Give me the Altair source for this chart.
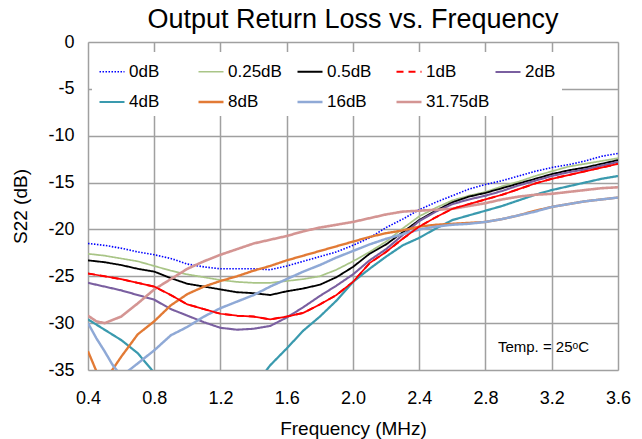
import altair as alt
import pandas as pd

series_names = ["0dB", "0.25dB", "0.5dB", "1dB", "2dB", "4dB", "8dB", "16dB", "31.75dB"]
series_colors = ["#0000FF", "#A9C587", "#000000", "#FF0000", "#7A5FA0",
                 "#3A9AAE", "#E27A35", "#8FA9D6", "#D49593"]

freq = [0.4, 0.5, 0.6, 0.7, 0.8, 0.9, 1.0, 1.1, 1.2, 1.3, 1.4, 1.5, 1.6, 1.7, 1.8,
        1.9, 2.0, 2.1, 2.2, 2.3, 2.4, 2.5, 2.6, 2.7, 2.8, 2.9, 3.0, 3.1, 3.2, 3.3,
        3.4, 3.5, 3.6]

s_0dB = [-21.5, -21.7, -22.0, -22.4, -22.7, -23.1, -23.7, -24.0, -24.2, -24.2,
         -24.2, -24.3, -23.9, -23.4, -22.9, -22.4, -21.7, -20.9, -19.8, -18.9,
         -17.9, -17.1, -16.4, -15.7, -15.2, -14.8, -14.3, -13.8, -13.4, -13.1,
         -12.7, -12.2, -11.9]
s_025dB = [-22.6, -22.8, -23.1, -23.4, -23.9, -24.4, -24.8, -25.1, -25.4, -25.6,
           -25.7, -25.7, -25.5, -25.3, -25.0, -24.3, -23.4, -22.4, -21.3, -19.9,
           -18.6, -17.7, -16.9, -16.4, -16.0, -15.4, -14.9, -14.3, -13.8, -13.3,
           -13.0, -12.7, -12.4]
s_05dB = [-23.3, -23.5, -23.8, -24.2, -24.5, -25.2, -25.8, -26.1, -26.4, -26.7,
          -26.8, -27.0, -26.6, -26.3, -25.9, -25.1, -24.0, -22.6, -21.6, -20.3,
          -19.0, -18.0, -17.1, -16.5, -16.1, -15.6, -15.1, -14.6, -14.1, -13.7,
          -13.4, -13.0, -12.6]
s_1dB = [-24.7, -25.0, -25.3, -25.7, -26.1, -27.0, -28.0, -28.5, -29.0, -29.2,
         -29.3, -29.6, -29.3, -28.9, -28.0, -27.0, -25.6, -23.6, -22.4, -21.0,
         -19.7, -18.7, -17.8, -17.3, -16.8, -16.3, -15.7, -15.1, -14.6, -14.2,
         -13.8, -13.4, -13.0]
s_2dB = [-25.7, -26.1, -26.5, -27.0, -27.5, -28.5, -29.2, -29.9, -30.5, -30.7,
         -30.6, -30.3, -29.4, -28.3, -27.1, -26.0, -24.8, -23.3, -22.1, -20.6,
         -19.1, -18.1, -17.3, -16.8, -16.4, -15.9, -15.3, -14.8, -14.3, -13.9,
         -13.6, -13.2, -12.8]
s_4dB = [-29.6, -30.7, -31.8, -33.2, -35.3, -37.0, -38.5, -39.5, -39.5, -38.5,
         -36.8, -34.5, -32.7, -30.8, -29.3, -27.6, -25.6, -24.2, -22.9, -21.7,
         -20.9, -19.9, -19.0, -18.5, -18.0, -17.5, -16.9, -16.3, -15.8, -15.4,
         -15.0, -14.6, -14.3]

freq_8dB = [0.4, 0.45, 0.5, 0.55, 0.6, 0.7, 0.8, 0.9, 1.0, 1.1, 1.2, 1.3, 1.4, 1.5,
            1.6, 1.7, 1.8, 1.9, 2.0, 2.1, 2.2, 2.3, 2.4, 2.5, 2.6, 2.7, 2.8, 2.9,
            3.0, 3.1, 3.2, 3.3, 3.4, 3.5, 3.6]
s_8dB = [-33.0, -35.1, -36.0, -34.9, -33.6, -31.2, -29.8, -28.1, -26.9, -26.1,
         -25.5, -25.0, -24.4, -23.9, -23.3, -22.8, -22.3, -21.8, -21.3, -20.8,
         -20.4, -20.1, -19.7, -19.5, -19.4, -19.3, -19.2, -18.9, -18.5, -18.0,
         -17.6, -17.3, -17.0, -16.8, -16.6]

freq_16dB = [0.4, 0.45, 0.5, 0.55, 0.6, 0.65, 0.7, 0.8, 0.9, 1.0, 1.1, 1.2, 1.3,
             1.4, 1.5, 1.6, 1.7, 1.8, 1.9, 2.0, 2.1, 2.2, 2.3, 2.4, 2.5, 2.6, 2.7,
             2.8, 2.9, 3.0, 3.1, 3.2, 3.3, 3.4, 3.5, 3.6]
s_16dB = [-30.0, -31.6, -33.0, -34.5, -35.6, -35.0, -34.3, -32.9, -31.3, -30.4,
          -29.3, -28.4, -27.7, -27.0, -26.1, -25.3, -24.5, -23.8, -23.0, -22.3,
          -21.6, -21.0, -20.5, -20.0, -19.7, -19.5, -19.4, -19.2, -18.9, -18.5,
          -18.1, -17.6, -17.3, -17.0, -16.8, -16.6]

freq_3175dB = [0.4, 0.45, 0.5, 0.6, 0.7, 0.8, 0.9, 1.0, 1.1, 1.2, 1.3, 1.4, 1.5,
               1.6, 1.7, 1.8, 1.9, 2.0, 2.1, 2.2, 2.3, 2.4, 2.5, 2.6, 2.7, 2.8,
               2.9, 3.0, 3.1, 3.2, 3.3, 3.4, 3.5, 3.6]
s_3175dB = [-29.2, -29.8, -30.0, -29.3, -27.9, -26.4, -25.3, -24.2, -23.4, -22.7,
            -22.1, -21.5, -21.1, -20.7, -20.2, -19.8, -19.5, -19.2, -18.8, -18.4,
            -18.1, -18.0, -17.9, -17.8, -17.5, -17.2, -16.8, -16.5, -16.3, -16.2,
            -16.0, -15.8, -15.6, -15.5]

x_ticks = [0.4, 0.8, 1.2, 1.6, 2.0, 2.4, 2.8, 3.2, 3.6]
y_ticks = [-35, -30, -25, -20, -15, -10, -5, 0]

note_text = ["Temp. = 25ᵒC"]
note_x = [3.15]
note_y = [-32.5]

series_data = [
    ("0dB", freq, s_0dB), ("0.25dB", freq, s_025dB), ("0.5dB", freq, s_05dB),
    ("1dB", freq, s_1dB), ("2dB", freq, s_2dB), ("4dB", freq, s_4dB),
    ("8dB", freq_8dB, s_8dB), ("16dB", freq_16dB, s_16dB),
    ("31.75dB", freq_3175dB, s_3175dB),
]
rows = []
for name, fs, vs in series_data:
    assert len(fs) == len(vs), name
    for i, (f, v) in enumerate(zip(fs, vs)):
        rows.append({"series": name, "f": f, "db": v, "order": i})
df = pd.DataFrame(rows)
note_df = pd.DataFrame({"text": note_text, "f": note_x, "db": note_y})

FONT = "Liberation Sans"

legend = alt.Legend(
    orient="none", legendX=4, legendY=10, direction="horizontal", columns=5,
    title=None, symbolType="stroke", symbolSize=625, symbolStrokeWidth=2,
    labelFontSize=17, labelFont=FONT, labelColor="black", labelOffset=3,
    columnPadding=0, rowPadding=8, gridAlign="all", fillColor="white",
    padding=6, zindex=1,
)

axis_common = dict(
    grid=True, gridColor="#A0A0A0", gridWidth=1.5, domain=False, ticks=False,
    labelFont=FONT, labelFontSize=18, labelColor="black", labelFlush=False,
    labelOverlap=False,
    titleFont=FONT, titleFontSize=19, titleFontWeight="normal", titleColor="black",
)

x_enc = alt.X("f:Q", scale=alt.Scale(domain=[0.4, 3.6], nice=False, zero=False),
              axis=alt.Axis(values=x_ticks, format=".1f", title="Frequency (MHz)",
                            labelPadding=19, titleX=265, titleY=58,
                            titleBaseline="middle", **axis_common))
y_enc = alt.Y("db:Q", scale=alt.Scale(domain=[-35, 0], nice=False),
              axis=alt.Axis(values=y_ticks, labelExpr="'' + datum.value",
                            title="S22 (dB)", labelPadding=14, titleX=-68,
                            titleY=164, titleBaseline="middle", titleAngle=270,
                            **axis_common))

dash_range = [[1.5, 1.5] if n == "0dB" else ([7, 5] if n == "1dB" else [1, 0])
              for n in series_names]
width_range = [1.6, 2.6, 1.6, 1.7, 2.6, 2.6, 2.6, 2.6, 2.6]

lines = alt.Chart(df).mark_line(clip=True).encode(
    x=x_enc, y=y_enc, order="order:Q",
    color=alt.Color("series:N", sort=series_names,
                    scale=alt.Scale(domain=series_names, range=series_colors),
                    legend=legend),
    strokeDash=alt.StrokeDash("series:N", sort=series_names,
                              scale=alt.Scale(domain=series_names, range=dash_range),
                              legend=legend),
    strokeWidth=alt.StrokeWidth("series:N",
                                scale=alt.Scale(domain=series_names, range=width_range),
                                legend=None),
)

red_solid = alt.Chart(df).transform_filter(alt.datum.series == "1dB").mark_line(
    clip=True, color="#FF0000", strokeWidth=1.7
).encode(x="f:Q", y="db:Q", order="order:Q")

note = alt.Chart(note_df).mark_text(
    font=FONT, fontSize=15, color="black", align="center", baseline="middle"
).encode(x="f:Q", y="db:Q", text="text:N")

chart = alt.layer(lines, red_solid, note).properties(
    width=530, height=328,
    title=alt.TitleParams("Output Return Loss vs. Frequency", font=FONT,
                          fontSize=27, fontWeight="normal", color="black",
                          offset=8, dy=9),
    padding={"left": 88, "top": 42, "right": 24, "bottom": 69},
    autosize=alt.AutoSizeParams(type="none"),
).configure_view(
    stroke="black", strokeWidth=1.6
).configure(background="white")

chart.save("out.html", embed_options={"renderer": "svg", "actions": False})
